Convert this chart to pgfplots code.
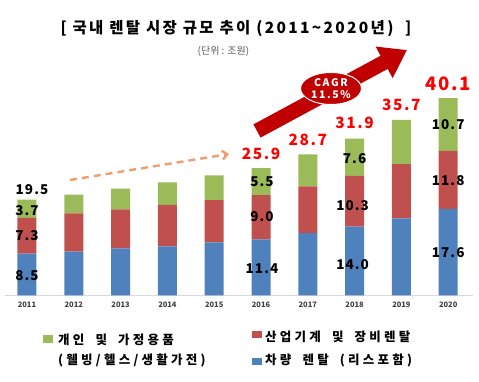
\documentclass[border=0pt]{standalone}
\usepackage{fontspec}
\setmainfont{Noto Sans CJK KR}
\newfontfamily\spaced{Noto Sans CJK KR}[LetterSpace=15]
\newfontfamily\legfont{Noto Sans CJK KR}[LetterSpace=26]
\newfontfamily\numfont{Noto Sans CJK KR}[LetterSpace=8]
\newfontfamily\redfont{Noto Sans CJK KR}[LetterSpace=10]
\newcommand\ws{\ \hspace{5pt}}
\usepackage{pgfplots}
\pgfplotsset{compat=1.18}
\usetikzlibrary{arrows.meta,shapes.geometric}
\definecolor{cblue}{HTML}{4F81BD}
\definecolor{cred}{HTML}{C0504D}
\definecolor{cgreen}{HTML}{9BBB59}
\definecolor{tred}{HTML}{FF0000}
\definecolor{dred}{HTML}{C00000}
\definecolor{corange}{RGB}{237,160,110}
\tikzset{
  vl/.style={font=\numfont\fontsize{13.5}{15}\selectfont\bfseries, text=black},
  tl/.style={font=\redfont\fontsize{15.5}{17}\selectfont\bfseries, text=tred},
  lg/.style={font=\legfont\fontsize{12.5}{14}\selectfont\bfseries, anchor=west, inner sep=0pt},
}
\begin{document}
\begin{tikzpicture}
\path[use as bounding box] (0,0) rectangle (479pt,382pt);
% title
\node[font=\spaced\fontsize{15.5}{17}\selectfont\bfseries] at (236pt,353pt) {[ 국내 렌탈 시장 규모 추이 (2011\textasciitilde2020년)\ \ ]};
\node[font=\fontsize{10}{12}\selectfont, text=black!65] at (223.5pt,331pt) {(단위 : 조원)};
% dashed arrow
\draw[corange, line width=2.4pt, dash pattern=on 7pt off 5pt, -{Straight Barb[length=5pt,width=9pt]}] (70pt,202pt) -- (229pt,228pt);
% big red arrow
\draw[dred, line width=15pt, -{Triangle[length=26pt,width=34pt]}] (257pt,251pt) -- (407pt,332pt);
\node[ellipse, fill=dred, draw=white, line width=1pt, minimum width=61pt, minimum height=32pt, inner sep=0pt, align=center, text=white, font=\spaced\fontsize{10.5}{12}\selectfont\bfseries] at (331pt,293.5pt) {CAGR\\11.5\%};
% legend
\fill[cgreen] (43pt,39pt) rectangle (53pt,46.5pt);
\fill[cred] (252pt,43.5pt) rectangle (262pt,50.5pt);
\fill[cblue] (252pt,17pt) rectangle (262pt,24pt);
\node[lg] at (58pt,42pt) {개인\ws 및\ws 가정용품};
\node[lg] at (58pt,21.3pt) {(웰빙/헬스/생활가전)};
\node[lg] at (265pt,45.3pt) {산업기계\ws 및\ws 장비렌탈};
\node[lg] at (265pt,21.3pt) {차량\ws 렌탈\ws (리스포함)};
\begin{axis}[
  at={(5pt,86.5pt)}, anchor=south west, scale only axis,
  width=468pt, height=221.4pt,
  xmin=-0.47, xmax=9.53, ymin=0, ymax=45,
  ybar stacked, bar width=19pt,
  axis x line*=bottom, axis y line=none,
  x axis line style={draw=black!15, line width=0.8pt},
  xtick={0,1,2,3,4,5,6,7,8,9},
  xticklabels={2011,2012,2013,2014,2015,2016,2017,2018,2019,2020},
  major tick length=0pt,
  xticklabel style={font=\fontsize{7.5}{9}\selectfont\bfseries, text=black!75, yshift=-3pt},
  clip=false,
]
\addplot[fill=cblue, draw=none] coordinates {(0,8.5) (1,8.9) (2,9.6) (3,10.0) (4,10.8) (5,11.4) (6,12.7) (7,14.0) (8,15.7) (9,17.6)};
\addplot[fill=cred, draw=none] coordinates {(0,7.3) (1,7.8) (2,7.9) (3,8.4) (4,8.6) (5,9.0) (6,9.5) (7,10.3) (8,11.0) (9,11.8)};
\addplot[fill=cgreen, draw=none] coordinates {(0,3.7) (1,3.8) (2,4.2) (3,4.6) (4,5.0) (5,5.5) (6,6.5) (7,7.6) (8,9.0) (9,10.7)};
% label anchors
\coordinate (a1) at (axis cs:0,4.0);
\coordinate (a2) at (axis cs:0,12.15);
\coordinate (a3) at (axis cs:0,17.2);
\coordinate (a4) at (axis cs:0,21.6);
\coordinate (b1) at (axis cs:5,5.5);
\coordinate (b2) at (axis cs:5,16.0);
\coordinate (b3) at (axis cs:5,23.1);
\coordinate (c1) at (axis cs:7,6.2);
\coordinate (c2) at (axis cs:7,18.3);
\coordinate (c3) at (axis cs:7,27.9);
\coordinate (d1) at (axis cs:9,8.7);
\coordinate (d2) at (axis cs:9,23.3);
\coordinate (d3) at (axis cs:9,34.65);
\coordinate (t1) at (axis cs:5,28.8);
\coordinate (t2) at (axis cs:6,31.6);
\coordinate (t3) at (axis cs:7,35.0);
\coordinate (t4) at (axis cs:8,38.7);
\coordinate (t5) at (axis cs:9,43.1);
\end{axis}
\node[vl] at (a1) {8.5};
\node[vl] at (a2) {7.3};
\node[vl] at (a3) {3.7};
\node[vl, xshift=5pt] at (a4) {19.5};
\node[vl, xshift=1pt] at (b1) {11.4};
\node[vl, xshift=1pt] at (b2) {9.0};
\node[vl, xshift=1pt] at (b3) {5.5};
\node[vl, xshift=-2pt] at (c1) {14.0};
\node[vl, xshift=-2pt] at (c2) {10.3};
\node[vl] at (c3) {7.6};
\node[vl] at (d1) {17.6};
\node[vl] at (d2) {11.8};
\node[vl] at (d3) {10.7};
\node[tl] at (t1) {25.9};
\node[tl] at (t2) {28.7};
\node[tl] at (t3) {31.9};
\node[tl] at (t4) {35.7};
\node[tl, font=\redfont\fontsize{18.5}{20}\selectfont\bfseries] at (t5) {40.1};
\end{tikzpicture}
\end{document}
